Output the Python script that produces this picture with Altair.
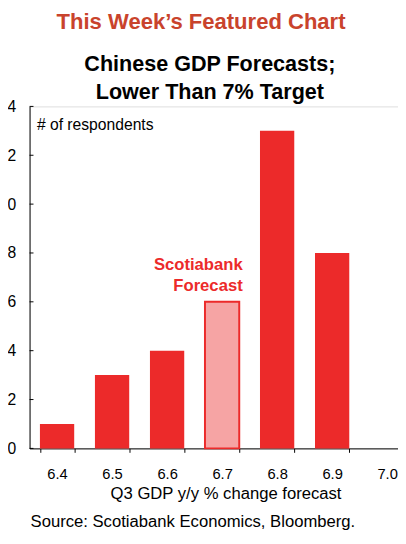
import altair as alt
import pandas as pd

categories = ["6.4", "6.5", "6.6", "6.7", "6.8", "6.9", "7.0"]
respondents = [1, 3, 4, 6, 13, 8, 0]
scotiabank_pick = "6.7"
y_ticks = [0, 2, 4, 6, 8, 10, 12, 14]

banner_text = "This Week\u2019s Featured Chart"
chart_title_text = "Chinese GDP Forecasts;\nLower Than 7% Target"
y_label = "# of respondents"
x_label = "Q3 GDP y/y % change forecast"
source_text = "Source: Scotiabank Economics, Bloomberg."
annotation_text = "Scotiabank\nForecast"

RED = "#ec2a2a"
PINK = "#f6a4a4"
BANNER = "#c9432c"
FONT = "Liberation Sans, Arial, sans-serif"

df = pd.DataFrame({"cat": categories, "n": respondents})
df_main = df[df["cat"] != scotiabank_pick]
df_pick = df[df["cat"] == scotiabank_pick]
ticks_df = pd.DataFrame({"n": y_ticks})

x_scale = alt.Scale(domain=categories, range=[0, 393], paddingInner=0.377, paddingOuter=0.1885)
y_scale = alt.Scale(domain=[0, 14], nice=False)

x_axis = alt.Axis(
    title=x_label, labelAngle=0, labelFontSize=15, labelFont=FONT, labelColor="black",
    labelPadding=15, tickSize=4, tickBand="extent", tickColor="black", domainColor="black",
    titleFontSize=17, titleFont=FONT, titleFontWeight="normal", titleColor="black",
    titleX=200, titleY=51, titleBaseline="alphabetic", titleAlign="center",
)
y_axis = alt.Axis(
    values=y_ticks, ticks=False, labelPadding=14, labelFontSize=16, labelFont=FONT,
    labelColor="black", grid=False, domainColor="black",
    title=y_label, titleAngle=0, titleAlign="left", titleBaseline="alphabetic",
    titleX=7, titleY=24, titleFontSize=16, titleFontWeight="normal", titleFont=FONT,
    titleColor="black",
)

bars = alt.Chart(df_main).mark_bar(color=RED).encode(
    x=alt.X("cat:N", sort=categories, scale=x_scale, axis=x_axis),
    y=alt.Y("n:Q", scale=y_scale, axis=y_axis),
)
pick = alt.Chart(df_pick).mark_bar(fill=PINK, stroke=RED, strokeWidth=2).encode(
    x=alt.X("cat:N", sort=categories),
    y=alt.Y("n:Q"),
)
annot = alt.Chart(df_pick).mark_text(
    align="right", baseline="alphabetic", dx=21, dy=-32, lineHeight=21,
    fontSize=17, fontWeight="bold", color=RED, font=FONT, lineBreak="\n",
).encode(x=alt.X("cat:N", sort=categories), y=alt.Y("n:Q"), text=alt.value(annotation_text))

yticks = alt.Chart(ticks_df).mark_rule(color="black", strokeWidth=1).encode(
    y=alt.Y("n:Q"), x=alt.value(0), x2=alt.value(4)
)

banner = alt.Chart(pd.DataFrame({"t": [banner_text]})).mark_text(
    align="center", baseline="alphabetic", fontSize=22.5, fontWeight="bold", font=FONT, color=BANNER
).encode(text="t:N", x=alt.value(175), y=alt.value(-79))

chart_title = alt.Chart(pd.DataFrame({"t": [chart_title_text]})).mark_text(
    align="center", baseline="alphabetic", fontSize=22, fontWeight="bold", font=FONT,
    color="black", lineHeight=28, lineBreak="\n",
).encode(text="t:N", x=alt.value(184), y=alt.value(-36))

source = alt.Chart(pd.DataFrame({"t": [source_text]})).mark_text(
    align="left", baseline="alphabetic", fontSize=17, font=FONT, color="black"
).encode(text="t:N", x=alt.value(1), y=alt.value(429))

chart = alt.layer(bars, pick, annot, yticks, banner, chart_title, source).properties(
    width=376, height=349,
    autosize=alt.AutoSizeParams(type="none"),
    padding={"left": 22, "top": 95, "right": 0, "bottom": 85},
).configure_view(stroke=None).configure(background="white")

chart.save("out.html", embed_options={"renderer": "svg", "actions": False})
